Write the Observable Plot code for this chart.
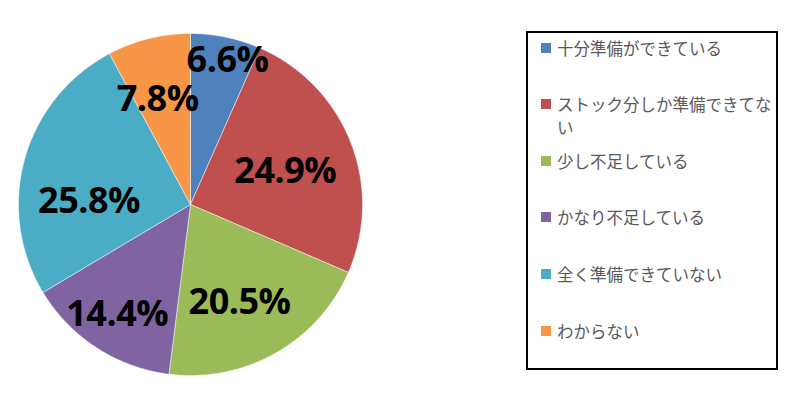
<!DOCTYPE html>
<html>
<head>
<meta charset="utf-8">
<script src="https://cdn.jsdelivr.net/npm/d3@7"></script>
<script src="https://cdn.jsdelivr.net/npm/@observablehq/plot@0.6"></script>
<style>
  html, body { margin: 0; padding: 0; background: #fff; }
  #wrap { position: relative; width: 792px; height: 397px; overflow: hidden; }
  #legend { position: absolute; left: 526px; top: 31px; width: 248px; height: 335px;
            border: 2px solid #000; box-sizing: content-box; }
  .item { position: absolute; left: 13px; font-family: "Noto Sans CJK JP", sans-serif;
          font-size: 16.5px; line-height: 23px; color: #595959; white-space: nowrap; }
  .sw { position: absolute; left: 0; top: 6px; width: 10px; height: 10px; }
  .lbl { position: absolute; left: 16px; top: 0; }
</style>
</head>
<body>
<div id="wrap"><div id="chart"></div><div id="legend"></div></div>
<script>
// Data
const categories = ["十分準備ができている", "ストック分しか準備できてない", "少し不足している", "かなり不足している", "全く準備できていない", "わからない"];
const legendLines = [["十分準備ができている"], ["ストック分しか準備できてな", "い"], ["少し不足している"], ["かなり不足している"], ["全く準備できていない"], ["わからない"]];
const shares = [6.6, 24.9, 20.5, 14.4, 25.8, 7.8];
const colors = ["#4F81BD", "#C0504D", "#9BBB59", "#8064A2", "#4BACC6", "#F79646"];

// Label layout (fraction of radius, angular shift in degrees) – "best fit" placement
const labelRadius = [0.86, 0.58, 0.65, 0.78, 0.59, 0.63];
const labelShift = [2.6, 3.3, 3.7, 0, -15, -3.6];

// Pie geometry (angles from d3.pie, clockwise from 12 o'clock)
const arcs = d3.pie().sort(null).value(d => d)(shares);
const slicePts = [];
arcs.forEach((a, i) => {
  slicePts.push({cat: categories[i], x: 0, y: 0});
  const n = Math.max(4, Math.ceil((a.endAngle - a.startAngle) / 0.01));
  for (let j = 0; j <= n; j++) {
    const t = a.startAngle + (a.endAngle - a.startAngle) * j / n;
    slicePts.push({cat: categories[i], x: Math.sin(t), y: Math.cos(t)});
  }
  slicePts.push({cat: categories[i], x: 0, y: 0});
});
const labels = arcs.map((a, i) => {
  const m = (a.startAngle + a.endAngle) / 2 + labelShift[i] * Math.PI / 180;
  const r = labelRadius[i];
  return {x: r * Math.sin(m), y: r * Math.cos(m), text: shares[i].toFixed(1) + "%"};
});

const chart = Plot.plot({
  width: 792,
  height: 397,
  marginLeft: 18,
  marginRight: 430,
  marginTop: 33,
  marginBottom: 22,
  x: {domain: [-1, 1], axis: null},
  y: {domain: [-1, 1], axis: null},
  color: {domain: categories, range: colors},
  marks: [
    Plot.line(slicePts, {x: "x", y: "y", z: "cat", fill: "cat", stroke: "#ffffff", strokeWidth: 0.6, strokeOpacity: 0.8}),
    Plot.text(labels, {x: "x", y: "y", text: "text", fill: "#000", fontSize: 36, fontWeight: "bold",
      fontFamily: "'Open Sans', sans-serif", textAnchor: "middle", dy: -2})
  ]
});
chart.style.letterSpacing = "-0.5px";
document.getElementById("chart").appendChild(chart);

// Legend
const legend = document.getElementById("legend");
legendLines.forEach((lines, i) => {
  const it = document.createElement("div");
  it.className = "item";
  it.style.top = (3.5 + i * 56.6) + "px";
  const sw = document.createElement("div");
  sw.className = "sw";
  sw.style.background = colors[i];
  it.appendChild(sw);
  const lb = document.createElement("div");
  lb.className = "lbl";
  lb.innerHTML = lines.join("<br>");
  it.appendChild(lb);
  legend.appendChild(it);
});
</script>
</body>
</html>
